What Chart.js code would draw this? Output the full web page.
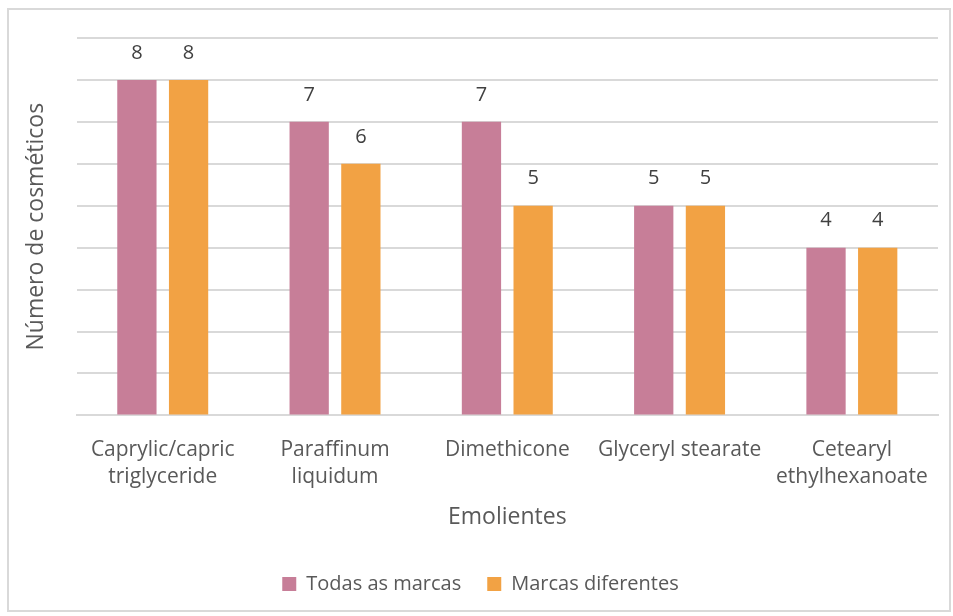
<!DOCTYPE html>
<html>
<head>
<meta charset="utf-8">
<script src="https://cdn.jsdelivr.net/npm/chart.js@4/dist/chart.umd.min.js"></script>
<style>
  body { margin: 0; background: #fff; }
  #box {
    position: absolute; left: 7px; top: 8px;
    width: 940px; height: 600px;
    border: 2px solid #d9d9d9; background: #fff;
  }
</style>
</head>
<body>
<div id="box"><canvas id="chart" width="940" height="600"></canvas></div>
<script>
// data
const emolientes = [
    ['Caprylic/capric', 'triglyceride'],
    ['Paraffinum', 'liquidum'],
    'Dimethicone',
    'Glyceryl stearate',
    ['Cetearyl', 'ethylhexanoate']
];
const todasAsMarcas = [8, 7, 7, 5, 4];
const marcasDiferentes = [8, 6, 5, 5, 4];

const textColor = '#595959';
const fontFamily = "'Open Sans', 'Liberation Sans', sans-serif";

// draws the value above each bar
const valueLabels = {
    id: 'valueLabels',
    afterDatasetsDraw(chart) {
        const ctx = chart.ctx;
        ctx.save();
        ctx.fillStyle = '#404040';
        ctx.font = '20px ' + fontFamily;
        ctx.textAlign = 'center';
        ctx.textBaseline = 'bottom';
        chart.data.datasets.forEach((ds, i) => {
            chart.getDatasetMeta(i).data.forEach((bar, j) => {
                ctx.fillText(ds.data[j], bar.x, bar.y - 17);
            });
        });
        ctx.restore();
    }
};

const ctx = document.getElementById('chart').getContext('2d');
const chart = new Chart(ctx, {
    type: 'bar',
    data: {
        labels: emolientes,
        datasets: [{
            label: 'Todas as marcas',
            data: todasAsMarcas,
            backgroundColor: '#C77E98',
            categoryPercentage: 0.6,
            barPercentage: 0.76
        }, {
            label: 'Marcas diferentes',
            data: marcasDiferentes,
            backgroundColor: '#F2A244',
            categoryPercentage: 0.6,
            barPercentage: 0.76
        }]
    },
    options: {
        responsive: false,
        animation: false,
        layout: { padding: { left: 14, right: 11, top: 28, bottom: 6 } },
        plugins: {
            legend: {
                position: 'bottom',
                labels: {
                    color: textColor,
                    font: { size: 20, family: fontFamily },
                    boxWidth: 14,
                    boxHeight: 14,
                    padding: 26
                }
            },
            tooltip: { enabled: false }
        },
        scales: {
            x: {
                grid: { display: false },
                border: { color: '#d9d9d9', width: 2 },
                ticks: {
                    color: textColor,
                    font: { size: 21, family: fontFamily, lineHeight: 1.3 },
                    padding: 13,
                    maxRotation: 0
                },
                title: {
                    display: true,
                    text: 'Emolientes',
                    color: textColor,
                    font: { size: 23, family: fontFamily, lineHeight: 1 },
                    padding: { top: 2, bottom: 19 }
                }
            },
            y: {
                min: 0,
                max: 9,
                ticks: { display: false, stepSize: 1 },
                grid: { color: '#d9d9d9', lineWidth: 2, drawTicks: false },
                border: { display: false },
                title: {
                    display: true,
                    text: 'Número de cosméticos',
                    color: textColor,
                    font: { size: 23, family: fontFamily },
                    padding: { top: 0, bottom: 26 }
                }
            }
        }
    },
    plugins: [valueLabels]
});
</script>
</body>
</html>
